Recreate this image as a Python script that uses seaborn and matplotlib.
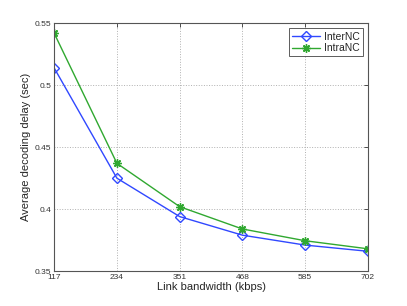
import matplotlib
matplotlib.use("Agg")
import matplotlib.pyplot as plt
import seaborn as sns
import pandas as pd

# data
bandwidth = [117, 234, 351, 468, 585, 702]
inter_nc = [0.514, 0.425, 0.394, 0.379, 0.371, 0.366]
intra_nc = [0.542, 0.437, 0.402, 0.384, 0.3745, 0.368]

df = pd.DataFrame({
    "bw": bandwidth * 2,
    "delay": inter_nc + intra_nc,
    "scheme": ["InterNC"] * len(bandwidth) + ["IntraNC"] * len(bandwidth),
})

sns.set_theme(style="white")
plt.rcParams['font.family'] = ['Liberation Sans', 'DejaVu Sans']

fig = plt.figure(figsize=(4.07, 3.06), dpi=100)
ax = fig.add_axes([0.133, 0.114, 0.771, 0.810])

palette = {"InterNC": "#3048ff", "IntraNC": "#30a830"}
# matlab-style: open diamond and asterisk
markers = {"InterNC": "D", "IntraNC": (8, 2, 0)}
for name, grp in df.groupby("scheme"):
    sns.lineplot(data=grp, x="bw", y="delay", ax=ax, color=palette[name],
                 marker=markers[name], markersize=5 if name == "InterNC" else 6,
                 markerfacecolor="none",
                 markeredgecolor=palette[name], markeredgewidth=1.0,
                 linewidth=1.0, label=name)

ax.set_xlim(117, 702)
ax.set_ylim(0.35, 0.55)
ax.set_xticks(bandwidth)
ax.set_yticks([0.35, 0.4, 0.45, 0.5, 0.55])
ax.set_yticklabels(["0.35", "0.4", "0.45", "0.5", "0.55"])
ax.tick_params(direction="in", labelsize=6, length=3, width=0.6,
               top=True, right=True, colors="#333333", pad=2)
ax.grid(True, linestyle=":", color="#b0b0b0", linewidth=0.7)
for s in ax.spines.values():
    s.set_color("#555555")
    s.set_linewidth(0.8)
ax.set_xlabel("Link bandwidth (kbps)", fontsize=8, labelpad=1)
ax.set_ylabel("Average decoding delay (sec)", fontsize=8, labelpad=3)

leg = ax.legend(loc="upper right", fontsize=7.5, frameon=True, fancybox=False,
                borderpad=0.3, handlelength=2.6, labelspacing=0.15,
                borderaxespad=0.5, handletextpad=0.4)
leg.get_frame().set_edgecolor("#333333")
leg.get_frame().set_linewidth(0.7)

fig.savefig("out.png", dpi=100)
